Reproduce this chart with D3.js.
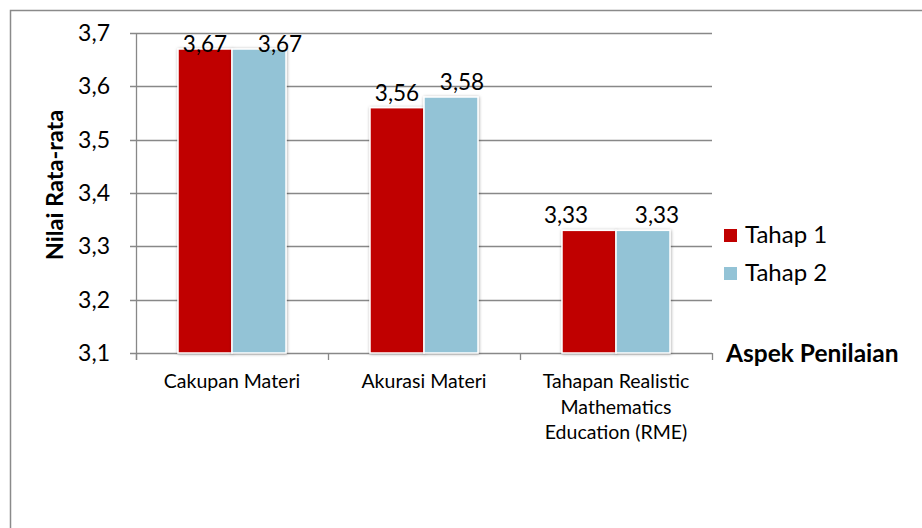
<!DOCTYPE html>
<html>
<head>
<meta charset="utf-8">
<script src="https://cdn.jsdelivr.net/npm/d3@7/dist/d3.min.js"></script>
<style>
  html, body { margin: 0; padding: 0; background: #fff; }
  svg { display: block; font-family: Lato, "Open Sans", sans-serif; }
</style>
</head>
<body>
<svg id="chart" width="922" height="528"></svg>
<script>
// ---- data ----
const categories = ["Cakupan Materi", "Akurasi Materi", "Tahapan Realistic Mathematics Education (RME)"];
const seriesNames = ["Tahap 1", "Tahap 2"];
const tahap1 = [3.67, 3.56, 3.33];
const tahap2 = [3.67, 3.58, 3.33];
const yTicks = [3.1, 3.2, 3.3, 3.4, 3.5, 3.6, 3.7];
const yTitle = "Nilai Rata-rata";
const xTitle = "Aspek Penilaian";

// ---- style / layout ----
const colors = ["#C00000", "#93C3D6"];
const plot = { left: 136, right: 712, top: 33, bottom: 353 };
// small horizontal nudges of value labels (as placed in the original)
const labelNudge = [[0, 21], [0, 11], [-23, 14]];

const svg = d3.select("#chart");
const defs = svg.append("defs");
const f = defs.append("filter").attr("id", "shadow")
  .attr("x", "-20%").attr("y", "-20%").attr("width", "140%").attr("height", "140%");
f.append("feDropShadow").attr("dx", 0.5).attr("dy", 0.5).attr("stdDeviation", 1.6)
  .attr("flood-color", "#000").attr("flood-opacity", 0.35);

// outer frame (right/bottom outside the view)
svg.append("rect").attr("x", 10.5).attr("y", 10.5).attr("width", 1000).attr("height", 600)
  .attr("fill", "none").attr("stroke", "#8a8a8a").attr("stroke-width", 1.5);

const y = d3.scaleLinear().domain([3.1, 3.7]).range([plot.bottom, plot.top]);
const x0 = d3.scaleBand().domain(categories).range([plot.left, plot.right])
  .paddingInner(0.4375).paddingOuter(0.21875);
const x1 = d3.scaleBand().domain(seriesNames).range([0, x0.bandwidth()]);
const step = x0.step();

const locale = d3.formatLocale({ decimal: ",", thousands: ".", grouping: [3], currency: ["", ""] });
const fmt1 = locale.format(".1f");
const fmt2 = locale.format(".2f");

const gridColor = "#888888";

// gridlines
svg.append("g").selectAll("line").data(yTicks).join("line")
  .attr("x1", plot.left - 6).attr("x2", plot.right)
  .attr("y1", d => Math.round(y(d)) + 0.5).attr("y2", d => Math.round(y(d)) + 0.5)
  .attr("stroke", gridColor).attr("stroke-width", 1.3);

// y axis
const yAxis = d3.axisLeft(y).tickValues(yTicks).tickFormat(fmt1).tickSize(0).tickPadding(26);
const gy = svg.append("g").attr("transform", `translate(${plot.left},0)`).call(yAxis);
gy.select(".domain").remove();
gy.selectAll("text").attr("font-size", 23).attr("fill", "#000")
  .attr("font-family", "Lato, sans-serif");
svg.append("line").attr("x1", plot.left + 0.5).attr("x2", plot.left + 0.5)
  .attr("y1", plot.top).attr("y2", plot.bottom + 7)
  .attr("stroke", gridColor).attr("stroke-width", 1.3);

// x axis ticks at category boundaries
const bnds = [plot.left].concat(categories.map((c, i) => plot.left + step * (i + 1)));
svg.append("g").selectAll("line").data(bnds).join("line")
  .attr("x1", d => Math.round(d) + 0.5).attr("x2", d => Math.round(d) + 0.5)
  .attr("y1", plot.bottom).attr("y2", plot.bottom + 7)
  .attr("stroke", gridColor).attr("stroke-width", 1.3);

// bars
const rows = categories.map((c, i) => ({ cat: c, i, vals: [tahap1[i], tahap2[i]] }));
const groups = svg.append("g").selectAll("g").data(rows).join("g")
  .attr("transform", d => `translate(${x0(d.cat)},0)`);
groups.selectAll("rect").data(d => d.vals.map((v, k) => ({ v, k, s: seriesNames[k] })))
  .join("rect")
  .attr("x", d => x1(d.s)).attr("width", x1.bandwidth())
  .attr("y", d => y(d.v)).attr("height", d => plot.bottom - y(d.v))
  .attr("fill", d => colors[d.k])
  .attr("stroke", "#fff").attr("stroke-width", 1.5)
  .attr("filter", "url(#shadow)");

// value labels
groups.selectAll("text").data(d => d.vals.map((v, k) => ({ v, k, s: seriesNames[k], i: d.i })))
  .join("text")
  .attr("x", d => x1(d.s) + x1.bandwidth() / 2 + labelNudge[d.i][d.k])
  .attr("y", d => Math.max(y(d.v) - 7, plot.top + 19))
  .attr("text-anchor", "middle").attr("font-size", 22.5).attr("fill", "#000")
  .text(d => fmt2(d.v));

// category labels (wrapped)
function wrapText(text, maxW) {
  text.each(function () {
    const t = d3.select(this);
    const words = t.text().split(/\s+/);
    t.text(null);
    const lh = 25.5;
    let line = [];
    let tspan = t.append("tspan").attr("x", t.attr("x")).attr("dy", 0);
    for (const w of words) {
      line.push(w);
      tspan.text(line.join(" "));
      if (tspan.node().getComputedTextLength() > maxW && line.length > 1) {
        line.pop();
        tspan.text(line.join(" "));
        line = [w];
        tspan = t.append("tspan").attr("x", t.attr("x")).attr("dy", lh).text(w);
      }
    }
  });
}
svg.append("g").selectAll("text").data(categories).join("text")
  .attr("x", d => x0(d) + x0.bandwidth() / 2)
  .attr("y", plot.bottom + 35)
  .attr("text-anchor", "middle").attr("font-size", 19.5).attr("fill", "#000")
  .text(d => d)
  .call(wrapText, 178);

// axis titles
svg.append("text")
  .attr("transform", `translate(63,${(plot.top + plot.bottom) / 2 - 8}) rotate(-90)`)
  .attr("text-anchor", "middle").attr("font-size", 23.5).attr("font-weight", "bold")
  .attr("fill", "#000").text(yTitle);
svg.append("text").attr("x", 726).attr("y", 362)
  .attr("font-size", 24.5).attr("font-weight", "bold").attr("fill", "#000").text(xTitle);

// legend
const leg = svg.append("g").selectAll("g").data(seriesNames).join("g")
  .attr("transform", (d, i) => `translate(724,${229 + i * 38})`);
leg.append("rect").attr("width", 13).attr("height", 13).attr("fill", (d, i) => colors[i]);
leg.append("text").attr("x", 21).attr("y", 14).attr("font-size", 24).attr("fill", "#000").text(d => d);
</script>
</body>
</html>
